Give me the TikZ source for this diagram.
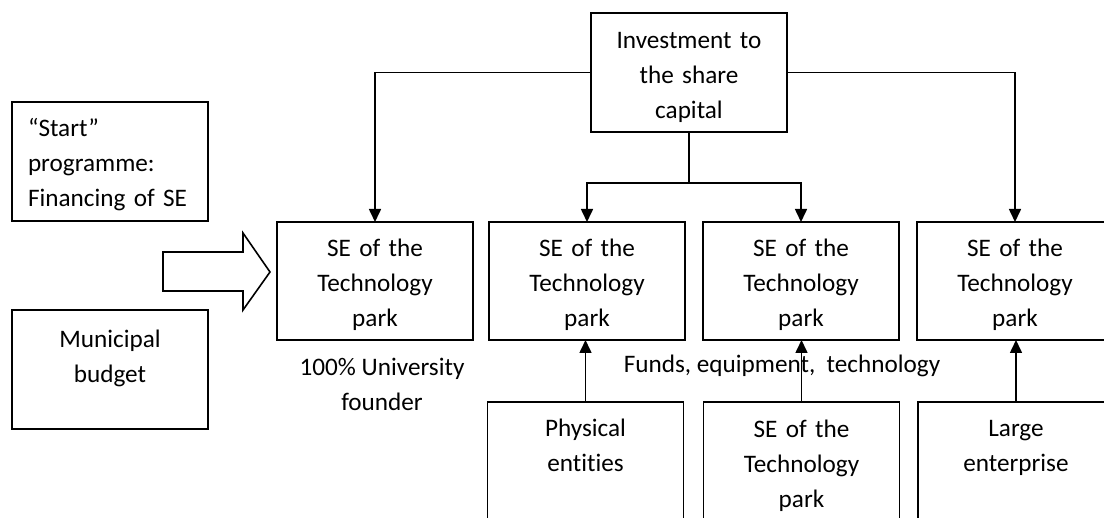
\documentclass[tikz,border=0pt]{standalone}
\usepackage{fontspec}
\setmainfont{Carlito}[Ligatures=NoCommon]
\usetikzlibrary{arrows.meta}
\begin{document}
\begin{tikzpicture}[x=0.5pt,y=-0.5pt,
  font=\fontsize{12.6}{17.5}\selectfont,
  box/.style={draw, line width=0.8pt, minimum width=98pt, minimum height=59pt, inner sep=0pt, outer sep=0pt, text width=98pt, align=center, text height=17.2pt, text depth=41.8pt},
  lbox/.style={box, inner xsep=8pt, text width=82pt, align=left},
  arr/.style={line width=0.8pt, -{Triangle[width=6pt,length=6.5pt]}},
  ln/.style={line width=0.8pt},
  lbl/.style={align=center, inner sep=0pt}]
\useasboundingbox (0,0) rectangle (1104,518);
\clip (0,0) rectangle (1104,518);
\fill[white] (0,0) rectangle (1104,518);
% top
\node[box, minimum height=59.5pt, text height=17.8pt, text depth=41.7pt] (inv) at (689,72.5) {Investment to\\the share\\capital};
% left
\node[lbox, minimum height=59.5pt, text height=17.2pt, text depth=42.3pt] (start) at (110,161.5) {“Start”\\programme:\\Financing of SE};
\node[box, minimum height=59.5pt, text height=18.6pt, text depth=40.9pt] (mun) at (110,369.5) {Municipal\\budget};
% block arrow
\draw[line width=0.8pt, fill=white] (163,252) -- (243,252) -- (243,233) -- (270,272) -- (243,310) -- (243,291) -- (163,291) -- cycle;
% middle row
\node[box] (se1) at (375,281) {SE of the\\Technology\\park};
\node[box] (se2) at (587,281) {SE of the\\Technology\\park};
\node[box] (se3) at (801,281) {SE of the\\Technology\\park};
\node[box] (se4) at (1015,281) {SE of the\\Technology\\park};
% bottom row
\node[box] (phys) at (585.5,461) {Physical\\entities};
\node[box, text height=17.6pt, text depth=41.4pt] (seb) at (801.5,461) {SE of the\\Technology\\park};
\node[box] (large) at (1016,461) {Large\\enterprise};
% labels
\node[lbl] (univ) at (382,384) {100\% University\\founder};
\node[lbl] (funds) at (782,366) {Funds, equipment,\ \ technology};
% connectors
\draw[arr] (inv.west) -| (se1.north);
\draw[arr] (inv.east) -| (se4.north);
\coordinate (split) at (689,183);
\draw[ln] (inv.south) -- (split);
\draw[arr] (split) -| (se2.north);
\draw[arr] (split) -| (se3.north);
\draw[arr] (phys.north) -- (phys.north |- se2.south);
\draw[arr] (seb.north) -- (seb.north |- se3.south);
\draw[arr] (large.north) -- (large.north |- se4.south);
\end{tikzpicture}
\end{document}
